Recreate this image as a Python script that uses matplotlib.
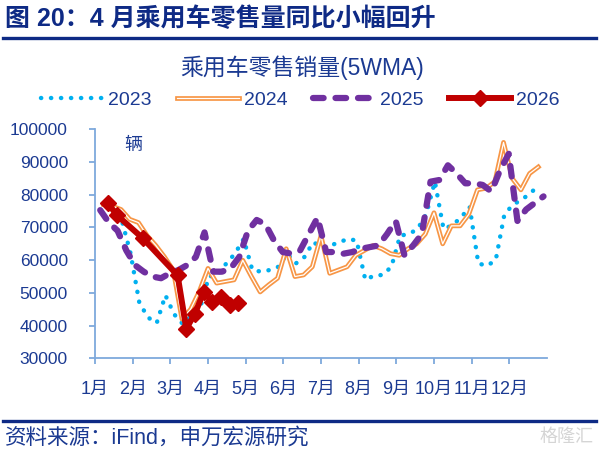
import numpy as np
import matplotlib
matplotlib.use('Agg')
import matplotlib.pyplot as plt
import matplotlib.patheffects as pe
from matplotlib.lines import Line2D

plt.rcParams['font.family'] = ['Liberation Sans', 'Noto Sans CJK SC', 'DejaVu Sans']

# 乘用车零售销量(5WMA)，单位：辆，按周
v2023 = [77600, 77000, 72000, 62000, 47000, 42500, 40800, 49300, 43500, 40500,
         43000, 45500, 55000, 55500, 59000, 62000, 66500, 57000, 56500, 57000,
         58000, 62000, 59000, 61000, 65500, 64000, 64500, 65500, 66500, 66000,
         54000, 55300, 55500, 58000, 67500, 68000, 69500, 74000, 84000, 69500,
         70700, 73000, 76300, 59000, 58300, 60000, 74000, 77000, 78500, 80500,
         83000]
v2024 = [77000, 76500, 75500, 72500, 71500, 67500, 64500, 61000, 57000, 42000,
         45000, 50500, 57500, 53000, 53500, 54000, 60000, 55000, 50300, 52500,
         54500, 63500, 55000, 55500, 58000, 67500, 56000, 57000, 58000, 61500,
         63000, 64500, 63500, 62000, 61500, 63500, 65000, 68000, 74500, 65000,
         70500, 70500, 74000, 81500, 82000, 84000, 96000, 85000, 81500, 86500,
         88500]
v2025 = [75300, 71500, 69000, 63000, 58500, 56500, 55000, 54500, 56000, 57000,
         58500, 61000, 68500, 56500, 56500, 57500, 61000, 69000, 72300, 71000,
         66000, 62500, 62000, 63000, 68000, 73000, 62500, 62500, 62000, 62500,
         63500, 64000, 64500, 68000, 72000, 61500, 64500, 68000, 84000, 84500,
         89000, 86500, 83500, 83500, 83000, 81000, 87500, 92500, 72000, 75500,
         77500, 79500]
wk2026 = [1, 2, 5, 9, 10, 11, 12, 13, 14, 15, 16]
v2026 = [77400, 73800, 66700, 55400, 39100, 43700, 50300, 47300, 48800, 46300, 46800]

months = ['1月', '2月', '3月', '4月', '5月', '6月', '7月', '8月', '9月', '10月', '11月', '12月']

navy = '#1B3A92'
axis_c = '#7EA9DC'

fig = plt.figure(figsize=(5.99, 4.49), dpi=100)
ax = fig.add_axes([95/599, 1-358.4/449, 452/599, 229.1/449])

x23 = np.arange(len(v2023)) + 1.1
x24 = np.arange(len(v2024)) + 1.0
x25 = np.arange(len(v2025)) + 0.6
x26 = np.array(wk2026) + 0.5

ax.plot(x23, v2023, color='#00B0F0', lw=3.2, linestyle=(0, (0.05, 2.2)),
        dash_capstyle='round', label='2023')
ax.plot(x24, v2024, color='white', lw=0.9, label='2024',
        path_effects=[pe.Stroke(linewidth=3.4, foreground='#F79646'), pe.Normal()])
ax.plot(x25, v2025, color='#7030A0', lw=4.5, linestyle=(0, (1.7, 1.9)),
        dash_capstyle='round', label='2025')
ax.plot(x26, v2026, color='#C00000', lw=4.3, marker='D', markersize=8.5,
        label='2026')

ax.set_xlim(0, 52)
ax.set_ylim(30000, 100000)
ax.set_yticks(np.arange(30000, 100001, 10000))
ax.set_xticks(np.arange(12) * 52 / 12)
ax.set_xticklabels(months)
for s in ['top', 'right']:
    ax.spines[s].set_visible(False)
for s in ['left', 'bottom']:
    ax.spines[s].set_color(axis_c)
    ax.spines[s].set_linewidth(1.3)
ax.tick_params(axis='both', colors=axis_c, length=4.5, width=1.3, direction='out')
ax.tick_params(axis='y', labelcolor=navy, labelsize=12.5, pad=15)
ax.tick_params(axis='x', labelcolor=navy, labelsize=13, pad=12)

ax.text(0.065, 0.93, '辆', transform=ax.transAxes, color=navy, fontsize=13,
        ha='left', va='center')

# 图标题与装饰线
fig.text(5/599, 1-19/449, '图 20：4 月乘用车零售量同比小幅回升', color='#0E2A85',
         fontsize=18, fontweight='bold', ha='left', va='center')
fig.add_artist(Line2D([3/599, 596/599], [1-38/449, 1-38/449], color='#0E2A85', lw=2.4))
fig.text(302/599, 1-68/449, '乘用车零售销量(5WMA)', color=navy, fontsize=16.5,
         ha='center', va='center')
fig.add_artist(Line2D([3/599, 596/599], [1-421/449, 1-421/449], color='#0E2A85', lw=2.4))
fig.text(5/599, 1-438/449, '资料来源：iFind，申万宏源研究', color=navy, fontsize=15.5,
         ha='left', va='center')
fig.text(594/599, 1-437/449, '格隆汇', color='#D5D5D5', fontsize=13,
         ha='right', va='center')

fig.legend(loc='center', bbox_to_anchor=(300/599, 1-100/449), ncol=4, frameon=False,
           fontsize=14, handlelength=3.2, handletextpad=0.25, columnspacing=1.3,
           labelcolor=navy)

fig.savefig('out.png', dpi=100)
